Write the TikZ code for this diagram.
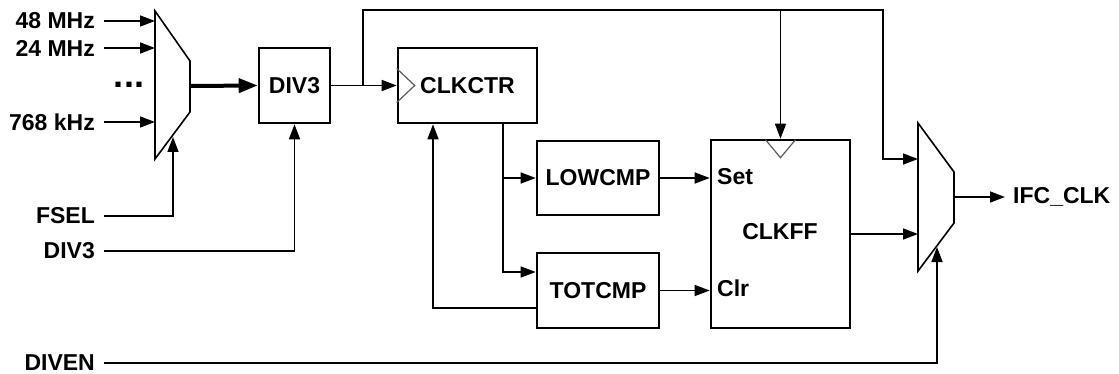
\documentclass[tikz,border=0pt]{standalone}
\usepackage{fontspec}
\setmainfont{Liberation Sans}
\usetikzlibrary{arrows.meta}
\begin{document}
\begin{tikzpicture}[x=1pt,y=-1pt,
  wire/.style={line width=1.5pt},
  arr/.style={wire,-{Triangle[length=15pt,width=11pt]}},
  bigarr/.style={line width=4pt,-{Triangle[length=19pt,width=14pt]}},
  txt/.style={font=\fontsize{23}{23}\selectfont\bfseries},
  blk/.style={draw,line width=2.6pt,inner sep=0pt,txt},
  lbl/.style={anchor=east,inner xsep=9pt,inner ysep=0pt,txt},
  muxshape/.style={line width=1.6pt,line join=miter},
  clk/.style={line width=1.2pt,black!65}]
\useasboundingbox (0,0) rectangle (1119,374);

% ---- input labels
\node[lbl] (l48)   at (104,21)  {48 MHz};
\node[lbl] (l24)   at (104,48)  {24 MHz};
\node[lbl] (l768)  at (104,122) {768 kHz};
\node[lbl] (lfsel) at (104,216) {FSEL};
\node[lbl] (ldiv)  at (104,251) {DIV3};
\node[lbl] (ldiven) at (104,363) {DIVEN};
\node[inner sep=0pt,anchor=base,font=\fontsize{36}{36}\selectfont\bfseries] (dots) at (129,88) {...};

% ---- mux 1
\draw[muxshape] (155,11) -- (190,61) -- (190,112) -- (155,159) -- cycle;
\coordinate (m1a) at (155,21);
\coordinate (m1b) at (155,48);
\coordinate (m1d) at (155,122);
\coordinate (m1out) at (190,86);
\coordinate (m1sel) at (173,137);

% ---- mux 2
\draw[muxshape] (918,123) -- (954,172) -- (954,223) -- (918,271) -- cycle;
\coordinate (m2a) at (918,159);
\coordinate (m2b) at (918,234);
\coordinate (m2out) at (954,197);
\coordinate (m2sel) at (937,247);

% ---- blocks
\node[blk,minimum width=71pt,minimum height=75pt] (div3box) at (294.5,85.5) {DIV3};
\node[blk,minimum width=139pt,minimum height=75pt] (clkctr) at (467.5,85.5) {CLKCTR};
\node[blk,minimum width=122pt,minimum height=74pt] (lowcmp) at (598,178) {LOWCMP};
\node[blk,minimum width=122pt,minimum height=75pt] (totcmp) at (598,290.5) {TOTCMP};
\node[draw,line width=2.6pt,minimum width=139pt,minimum height=188pt] (clkff) at (780.5,234) {};
\node[txt] (clkfflbl) at (780,232) {CLKFF};
\node[txt,anchor=west,inner sep=0pt] (set) at (717,177) {Set};
\node[txt,anchor=west,inner sep=0pt] (clr) at (717,288) {Clr};
\node[txt,anchor=west,inner xsep=8pt,inner ysep=0pt] (ifc) at (1005,197) {IFC\_CLK};

% clock triangles
\draw[clk] ([yshift=17pt]clkctr.west) -- ++(18,17) -- ++(-18,17);
\draw[clk] ([xshift=-15pt]clkff.north) ++(0,1) -- ++(15,18) -- ++(15,-18);

% ---- connectors
\draw[arr] (l48.east) -- (m1a);
\draw[arr] (l24.east) -- (m1b);
\draw[arr] (l768.east) -- (m1d);
\draw[arr] (lfsel.east) -| (m1sel);
\draw[arr] (ldiv.east) -| (div3box.south);
\draw[bigarr] (m1out) -- (div3box.west);

\coordinate (br) at (363,86);
\coordinate (topy) at (0,10);
\coordinate (topr) at (883,10);
\draw[arr] (div3box.east) -- (clkctr.west);
\draw[arr] (br) |- (topr) |- (m2a);
\draw[arr] (clkff.north |- topy) -- (clkff.north);

\coordinate (cc) at ([xshift=35.5pt]clkctr.south);
\draw[arr] (cc) |- (lowcmp.west);
\draw[arr] (cc) |- ([yshift=18.5pt]totcmp.west);
\draw[arr] ([yshift=-17.5pt]totcmp.west) -| ([xshift=-34.5pt]clkctr.south);

\draw[arr] (lowcmp.east) -- (lowcmp.east -| clkff.west);
\draw[arr] (totcmp.east) -- (totcmp.east -| clkff.west);
\draw[arr] (clkff.east) -- (m2b);
\draw[arr] (ldiven.east) -| (m2sel);
\draw[arr] (m2out) -- (ifc.west);
\end{tikzpicture}
\end{document}
